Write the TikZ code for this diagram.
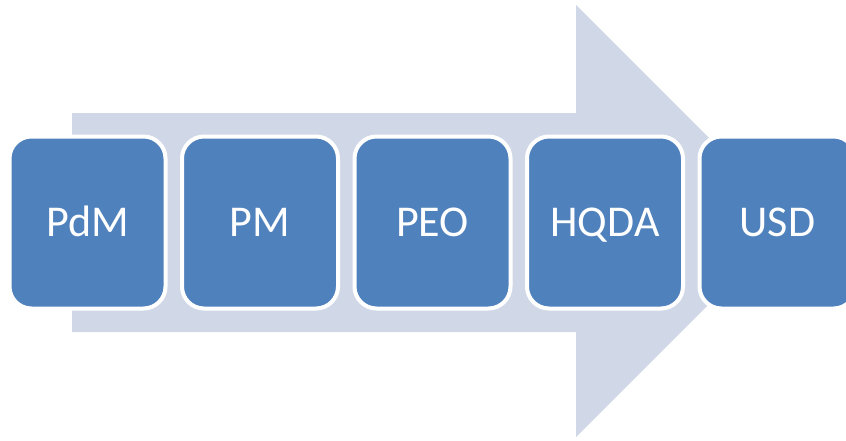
\documentclass[tikz,border=0pt]{standalone}
\usepackage{fontspec}
\setmainfont{Carlito}
\usetikzlibrary{positioning}
\definecolor{arrowfill}{HTML}{D0D8E8}
\definecolor{stagefill}{HTML}{4F81BD}
\tikzset{stage/.style={rectangle, rounded corners=22pt, fill=stagefill, draw=white, line width=4pt,
    minimum width=156pt, minimum height=172pt, text=white, text height=28pt, text depth=0pt,
    font=\fontsize{44}{52}\selectfont}}

\begin{document}
\begin{tikzpicture}[x=1pt,y=-1pt,node distance=12.5pt]
\clip (0,0) rectangle (846,440);
%big arrow behind the stages
\fill[arrowfill] (72,113) -- (576,113) -- (576,5) -- (792,221) -- (576,437) -- (576,332) -- (72,332) -- cycle;
\node[stage] (pdm) at (87.5,222.5) {PdM};
\node[stage, right=of pdm] (pm) {PM};
\node[stage, right=of pm] (peo) {PEO};
\node[stage, right=of peo] (hqda) {HQDA};
\node[stage, right=of hqda] (usd) {USD};
\end{tikzpicture}
\end{document}
